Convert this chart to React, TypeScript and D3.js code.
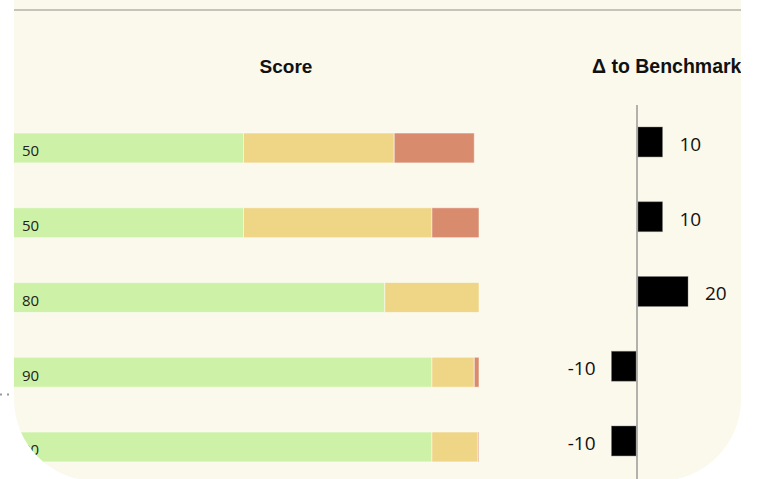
import React from "react";
import * as d3 from "d3";

const rows = ["r1", "r2", "r3", "r4", "r5"];
const greenValues = [50, 50, 80, 90, 90];
const yellowValues = [32, 40, 20, 9, 9.8];
const redValues = [17, 10, 0, 1, 0.2];
const deltaValues = [10, 10, 20, -10, -10];
const headers = ["Score", "Δ to Benchmark"];

const W = 761;
const H = 479;

export default function App() {
  const x = d3.scaleLinear().domain([0, 100]).range([8, 479]);
  const y = d3
    .scaleBand<string>()
    .domain(rows)
    .range([110.6, 484.35])
    .paddingInner(0.6)
    .paddingOuter(0.3);
  const xd = d3.scaleLinear().domain([0, 20]).range([637, 688]);
  const deltaShift = -6;
  const colors = ["#cdf2a7", "#efd586", "#d98c6d"];

  const stacks = rows.map((r, i) => {
    const vals = [greenValues[i], yellowValues[i], redValues[i]];
    let acc = 0;
    return vals.map((v, k) => {
      const s = acc;
      acc += v;
      return { row: r, k, x0: s, x1: acc };
    });
  });

  return (
    <svg
      width={W}
      height={H}
      style={{ position: "absolute", left: 0, top: 0, background: "#ffffff" }}
    >
      <defs>
        <clipPath id="panel">
          <rect x={14} y={-200} width={727} height={681} rx={82} ry={82} />
        </clipPath>
      </defs>
      <line x1={0} x2={14} y1={394.5} y2={394.5} stroke="#999" strokeWidth={2} strokeDasharray="2,5" />
      <rect x={14} y={-200} width={727} height={681} rx={82} ry={82} fill="#fbf8ec" />
      <g clipPath="url(#panel)">
        <line x1={14} x2={741} y1={10} y2={10} stroke="#c6c3bb" strokeWidth={2} />
        <text
          x={286}
          y={73}
          textAnchor="middle"
          fontFamily="'Liberation Sans', Arial, sans-serif"
          fontWeight="bold"
          fontSize={19}
          fill="#111"
        >
          {headers[0]}
        </text>
        <text
          x={592}
          y={73}
          textAnchor="start"
          fontFamily="'Liberation Sans', Arial, sans-serif"
          fontWeight="bold"
          fontSize={19.5}
          fill="#111"
        >
          {headers[1]}
        </text>
        {stacks.map((st, i) =>
          st
            .filter((s) => s.x1 > s.x0)
            .map((s) => (
              <rect
                key={`${i}-${s.k}`}
                x={x(s.x0)}
                y={y(s.row)!}
                width={x(s.x1) - x(s.x0)}
                height={y.bandwidth()}
                fill={colors[s.k]}
                stroke="rgba(255,255,255,0.5)"
                strokeWidth={1}
              />
            ))
        )}
        {rows.map((r, i) => (
          <text
            key={`l-${r}`}
            x={22}
            y={y(r)! + y.bandwidth() / 2 + 3}
            dy="0.36em"
            fontFamily="'Open Sans', sans-serif"
            fontSize={15}
            fill="#222"
          >
            {greenValues[i]}
          </text>
        ))}
        <line x1={637} x2={637} y1={105} y2={490} stroke="#9a9a9a" strokeWidth={1.5} />
        {rows.map((r, i) => {
          const v = deltaValues[i];
          const x0 = Math.min(xd(0), xd(v));
          const x1 = Math.max(xd(0), xd(v));
          const yy = y(r)! + deltaShift;
          return (
            <g key={`d-${r}`}>
              <rect
                x={v >= 0 ? x0 + 1 : x0}
                y={yy}
                width={x1 - x0 - 1}
                height={y.bandwidth()}
                fill="#000"
                stroke="rgba(120,120,120,0.5)"
                strokeWidth={0.8}
              />
              <text
                x={v >= 0 ? x1 + 17 : x0 - 16}
                y={yy + y.bandwidth() / 2 + 2}
                dy="0.36em"
                textAnchor={v >= 0 ? "start" : "end"}
                fontFamily="'Open Sans', sans-serif"
                fontSize={19}
                fill="#111"
              >
                {v}
              </text>
            </g>
          );
        })}
      </g>
    </svg>
  );
}
